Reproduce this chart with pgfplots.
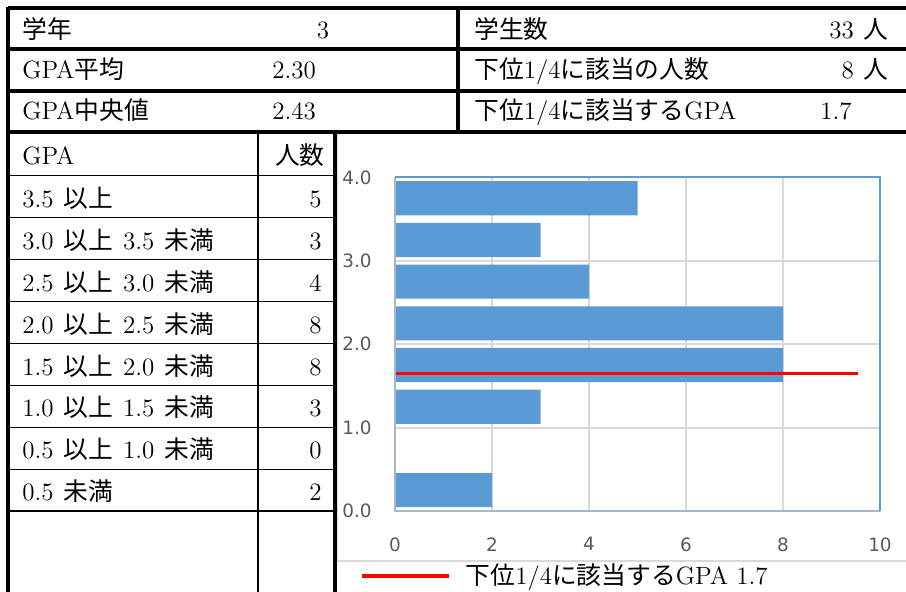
\documentclass[border=0pt]{standalone}
\usepackage{fontspec}
\usepackage{pgfplots}
\pgfplotsset{compat=1.18}
\newfontfamily\jp[Scale=0.99]{Noto Sans CJK JP}
\newfontfamily\dejavu{DejaVu Sans}
\newcommand\J[1]{{\jp #1}}
\newcommand\s{\hspace{5pt}}
\definecolor{barblue}{HTML}{5B9BD5}
\definecolor{gridgray}{HTML}{D9D9D9}
\definecolor{axisgray}{HTML}{A9B7CA}
\definecolor{tickgray}{HTML}{595959}
\definecolor{areagray}{HTML}{D9D9D9}
\begin{document}
\begin{tikzpicture}[x=0.5pt,y=-0.5pt,font=\fontsize{12.5}{15}\selectfont]
\useasboundingbox (0,0) rectangle (906,592);
\clip (0,0) rectangle (906,592);
% chart area border
\draw[areagray, line width=0.6pt] (337.5,133) rectangle (912,561);
\begin{axis}[
  at={(197.5pt,-255.5pt)}, anchor=south west,
  width=242.5pt, height=166.8pt, scale only axis,
  xmin=0, xmax=10, ymin=0, ymax=4,
  xtick={0,2,4,6,8,10}, ytick={0,1,2,3,4},
  xmajorgrids, ymajorgrids,
  grid style={color=gridgray, line width=1pt},
  major tick length=0pt,
  axis line style={draw=none},
  clip=false,
  /pgf/number format/assume math mode=true,
  tick label style={font=\dejavu\fontsize{9.2}{11}\selectfont, color=tickgray},
  yticklabel style={anchor=east, inner sep=0pt, xshift=-11.5pt,
     /pgf/number format/.cd, fixed, fixed zerofill, precision=1},
  xticklabel style={anchor=north, inner sep=0pt, yshift=-13pt},
  legend image code/.code={\draw[#1] (0pt,0pt) -- (43.5pt,0pt);},
  legend style={at={(-0.0722,-0.1948)}, anchor=west, draw=none, fill=none,
     inner sep=0pt, nodes={inner sep=0pt}, font=\fontsize{12.5}{15}\selectfont},
  legend cell align=left,
]
\addplot[xbar, bar shift=0pt, bar width=0.41, fill=barblue, draw=none, forget plot]
  coordinates {(5,3.75) (3,3.25) (4,2.75) (8,2.25) (8,1.75) (3,1.25) (0,0.75) (2,0.25)};
\addplot[red, line width=1.8pt]
  coordinates {(0,1.65) (9.55,1.65)};
\addlegendentry{\hspace*{7.5pt}\J{下位}1/4\J{に該当する}GPA 1.7}
\draw[axisgray, line width=1pt] (rel axis cs:0,1) -- (rel axis cs:0,0) -- (rel axis cs:1,0);
\draw[barblue, line width=1pt] (rel axis cs:0,1) -- (rel axis cs:1,1) -- (rel axis cs:1,0);
\end{axis}
% table lines
\begin{scope}[line width=2pt]
\draw (7.5,8) -- (912,8);
\draw (7.5,48.7) -- (912,48.7);
\draw (7.5,91) -- (912,91);
\draw (7.5,132) -- (912,132);
\draw (7.5,7) -- (7.5,600);
\draw (457.5,8) -- (457.5,132);
\draw (334.7,132) -- (334.7,600);
\end{scope}
\begin{scope}[line width=0.65pt]
\foreach \yy in {175.7,217.7,259.7,301.7,343.5,385.3,427.3,469.3,511}
  \draw (7.5,\yy) -- (334.7,\yy);
\draw (258,132) -- (258,600);
\end{scope}
% table texts
\begin{scope}[every node/.style={inner sep=0pt}]
\node[anchor=base west] at (22,38.5) {\J{学年}};
\node[anchor=base] at (323,38.5) {3};
\node[anchor=base west] at (22,78.5) {GPA\J{平均}};
\node[anchor=base west] at (272,78.5) {2.30};
\node[anchor=base west] at (22,120) {GPA\J{中央値}};
\node[anchor=base west] at (272,120) {2.43};
\node[anchor=base west] at (474,38.5) {\J{学生数}};
\node[anchor=base east] at (889,38.5) {33\hspace{5pt}\J{人}};
\node[anchor=base west] at (474,78.5) {\J{下位}1/4\J{に該当の人数}};
\node[anchor=base east] at (889,78.5) {8\hspace{5pt}\J{人}};
\node[anchor=base west] at (474,120) {\J{下位}1/4\J{に該当する}GPA};
\node[anchor=base east] at (852,120) {1.7};
\node[anchor=base west] at (22,165) {GPA};
\node[anchor=base east] at (325,165) {\J{人数}};
\node[anchor=base west] at (22,207.5) {3.5\s\J{以上}};
\node[anchor=base west] at (22,249.5) {3.0\s\J{以上}\s3.5\s\J{未満}};
\node[anchor=base west] at (22,291.5) {2.5\s\J{以上}\s3.0\s\J{未満}};
\node[anchor=base west] at (22,333.5) {2.0\s\J{以上}\s2.5\s\J{未満}};
\node[anchor=base west] at (22,375.5) {1.5\s\J{以上}\s2.0\s\J{未満}};
\node[anchor=base west] at (22,417) {1.0\s\J{以上}\s1.5\s\J{未満}};
\node[anchor=base west] at (22,459) {0.5\s\J{以上}\s1.0\s\J{未満}};
\node[anchor=base west] at (22,501) {0.5\s\J{未満}};
\node[anchor=base east] at (322,207.5) {5};
\node[anchor=base east] at (322,249.5) {3};
\node[anchor=base east] at (322,291.5) {4};
\node[anchor=base east] at (322,333.5) {8};
\node[anchor=base east] at (322,375.5) {8};
\node[anchor=base east] at (322,417) {3};
\node[anchor=base east] at (322,459) {0};
\node[anchor=base east] at (322,501) {2};
\end{scope}
\end{tikzpicture}
\end{document}
